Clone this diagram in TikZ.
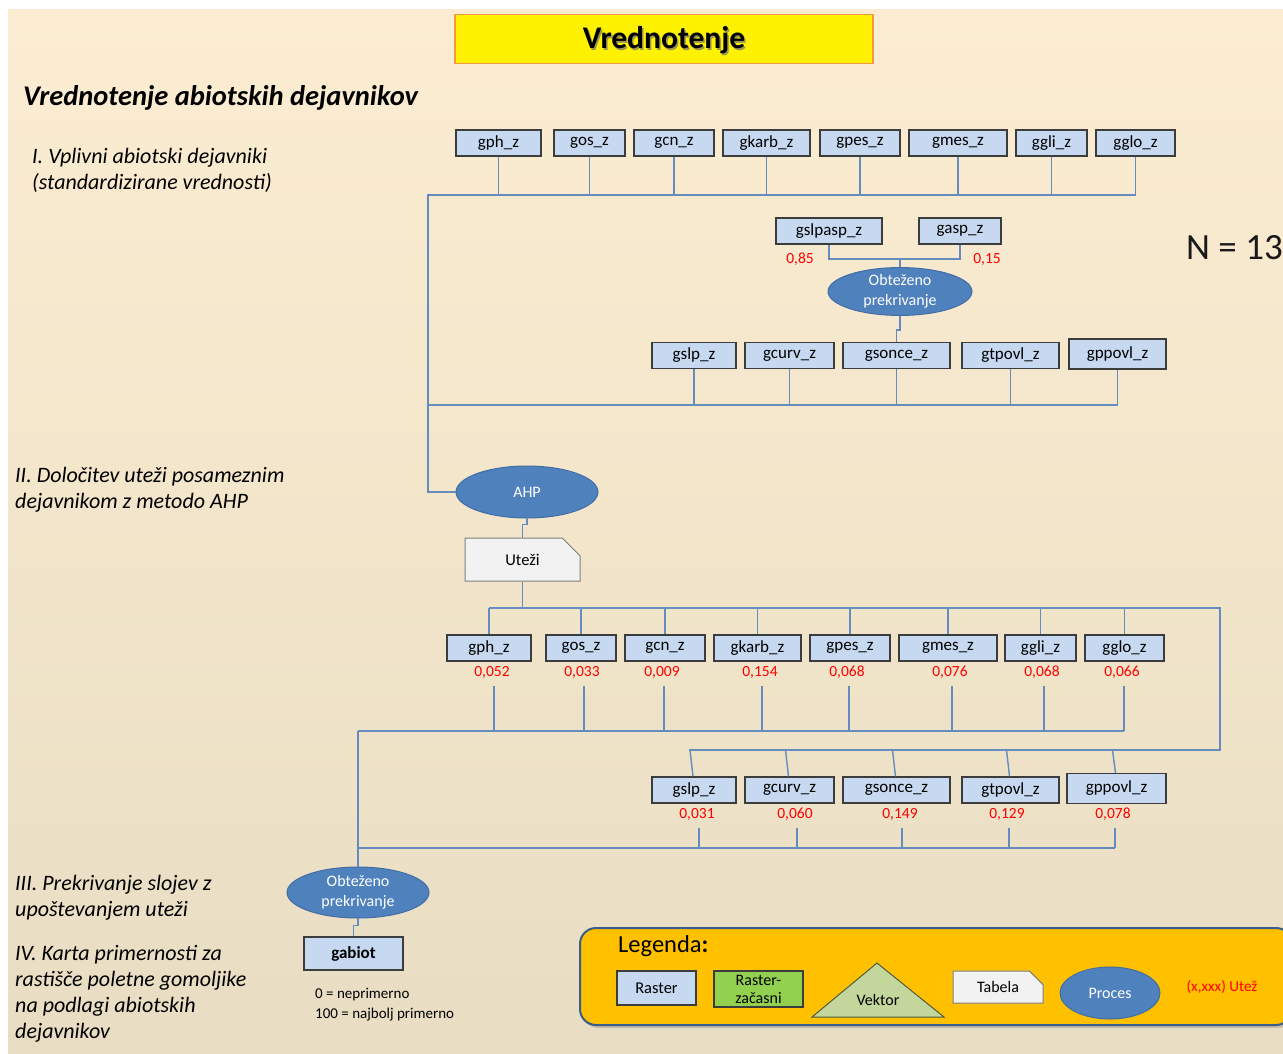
\documentclass[tikz,border=0pt]{standalone}
\usepackage{fontspec}
\setmainfont{Carlito}
\usetikzlibrary{shapes.geometric,shapes.misc,shadows,calc}
\definecolor{bgtop}{RGB}{252,237,210}
\definecolor{bgbot}{RGB}{232,221,195}
\definecolor{boxfill}{RGB}{198,217,241}
\definecolor{boxline}{RGB}{60,60,60}
\definecolor{conn}{RGB}{100,140,190}
\definecolor{procfill}{RGB}{79,129,189}
\definecolor{procline}{RGB}{65,110,165}
\definecolor{titleline}{RGB}{247,150,70}
\definecolor{legfill}{RGB}{255,192,0}
\definecolor{legline}{RGB}{56,93,138}
\definecolor{tmpfill}{RGB}{146,208,80}
\definecolor{vekfill}{RGB}{195,214,155}
\definecolor{vekline}{RGB}{80,90,60}
\definecolor{tabfill}{RGB}{242,242,242}
\definecolor{tabline}{RGB}{127,127,127}
\definecolor{wred}{RGB}{255,0,0}
\begin{document}
\begin{tikzpicture}[x=1pt,y=-1pt,
  rbox/.style={draw=boxline, fill=boxfill, line width=1.3pt, minimum height=26pt, inner sep=0pt, font=\fontsize{17}{19}\selectfont},
  proc/.style={ellipse, draw=procline, fill=procfill, line width=1pt, text=white, inner sep=0pt, align=center, font=\fontsize{16}{20}\selectfont},
  tabela/.style={chamfered rectangle, chamfered rectangle corners=north east, chamfered rectangle xsep=12pt, chamfered rectangle ysep=12pt, draw=tabline, fill=tabfill, line width=1pt, inner sep=0pt, font=\fontsize{16.5}{19}\selectfont},
  wt/.style={text=wred, inner sep=1pt, font=\fontsize{15.5}{17}\selectfont},
  drop/.style={draw=conn, line width=1.4pt},
  bus/.style={draw=conn, line width=2.2pt},
  lefttext/.style={anchor=west, align=left, inner sep=0pt, font=\fontsize{22}{26}\selectfont\itshape}
]
\useasboundingbox (0,0) rectangle (1283,1053);
\shade[top color=bgtop, bottom color=bgbot] (8,9) rectangle (1283,1053);

% title
\node[draw=titleline, fill=yellow, line width=1.8pt, minimum width=418pt, minimum height=49pt] (title) at (664,39) {};
\node[text=black!55, opacity=.7, font=\fontsize{31.5}{34}\selectfont\bfseries] (titleshadow) at (665.5,42) {Vrednotenje};
\node[font=\fontsize{31.5}{34}\selectfont\bfseries] (titletext) at (664,40.5) {Vrednotenje};

\node[anchor=west, inner sep=0pt, font=\fontsize{28.5}{32}\selectfont\bfseries\itshape] (sub) at (23,98) {Vrednotenje abiotskih dejavnikov};

\node[lefttext] (l1) at (32,170) {I. Vplivni abiotski dejavniki\\(standardizirane vrednosti)};
\node[lefttext] (l2) at (15,489.5) {II. Določitev uteži posameznim\\dejavnikom z metodo AHP};
\node[lefttext] (l3) at (15,897.5) {III. Prekrivanje slojev z\\upoštevanjem uteži};
\node[lefttext] (l4) at (15,994) {IV. Karta primernosti za\\rastišče poletne gomoljike\\na podlagi abiotskih\\dejavnikov};

\node[anchor=west, inner sep=0pt, text=black!90, font=\fontsize{37}{40}\selectfont] (n13) at (1186,248) {N = 13};

% ---------- top row
\node[rbox, minimum width=85pt] (a1) at (498.5,143) {gph\_z};
\node[rbox, minimum width=71pt] (a2) at (589.5,143) {gos\_z};
\node[rbox, minimum width=80pt] (a3) at (674,143) {gcn\_z};
\node[rbox, minimum width=87pt] (a4) at (766.5,143) {gkarb\_z};
\node[rbox, minimum width=80pt] (a5) at (860,143) {gpes\_z};
\node[rbox, minimum width=98pt] (a6) at (958,143) {gmes\_z};
\node[rbox, minimum width=71pt] (a7) at (1051.5,143) {ggli\_z};
\node[rbox, minimum width=79pt] (a8) at (1135.5,143) {gglo\_z};

\coordinate (bus1L) at (428,195);
\foreach \n in {a1,a2,a3,a4,a5,a6,a7,a8} \draw[drop] (\n.south) -- (\n.south |- bus1L);

% aspect sub-model
\node[rbox, minimum width=106pt] (b1) at (829,231) {gslpasp\_z};
\node[rbox, minimum width=82pt] (b2) at (960,231) {gasp\_z};
\node[wt] (wb1) at (800,259) {0,85};
\node[wt] (wb2) at (987,259) {0,15};
\node[proc, minimum width=144pt, minimum height=43pt] (e1) at (900,291.5) {Obteženo\\prekrivanje};
\coordinate (j1) at (900,259);
\draw[drop] (b1.south) |- (j1);
\draw[drop] (b2.south) |- (j1);
\draw[drop] (j1) -- (e1.north);

% row 3
\node[rbox, minimum width=84pt] (c1) at (694,355.5) {gslp\_z};
\node[rbox, minimum width=89pt] (c2) at (789.5,355.5) {gcurv\_z};
\node[rbox, minimum width=107pt] (c3) at (896.5,355.5) {gsonce\_z};
\node[rbox, minimum width=97pt] (c4) at (1010.5,355.5) {gtpovl\_z};
\node[rbox, minimum width=97pt, minimum height=30pt] (c5) at (1117.5,354) {gppovl\_z};
\draw[drop] (e1.south) -- ++(0,14) -| (c3.north);

\coordinate (bus2) at (428,405);
\foreach \n in {c1,c2,c3,c4,c5} \draw[drop] (\n.south) -- (\n.south |- bus2);
\draw[bus] (bus2) -- (c5.south |- bus2);

% AHP
\node[proc, minimum width=142pt, minimum height=52pt] (ahp) at (527,492) {AHP};
\draw[bus] (a8.south |- bus1L) -- (bus1L) -- (bus1L |- ahp.west) -- (ahp.west);

\node[tabela, minimum width=115pt, minimum height=43pt] (ut) at (522.5,559.5) {Uteži};
\draw[drop] (ahp.south) -- ++(0,6) -| (ut.north);

% row 4
\node[rbox, minimum width=84pt] (d1) at (489,648) {gph\_z};
\node[rbox, minimum width=70pt] (d2) at (581,648) {gos\_z};
\node[rbox, minimum width=80pt] (d3) at (665,648) {gcn\_z};
\node[rbox, minimum width=87pt] (d4) at (757.5,648) {gkarb\_z};
\node[rbox, minimum width=80pt] (d5) at (850,648) {gpes\_z};
\node[rbox, minimum width=98pt] (d6) at (948,648) {gmes\_z};
\node[rbox, minimum width=71pt] (d7) at (1040.5,648) {ggli\_z};
\node[rbox, minimum width=79pt] (d8) at (1124.5,648) {gglo\_z};

\coordinate (bus3) at (522.5,608);
\coordinate (corner3) at (1220,608);
\coordinate (corner4) at (1220,750);
\draw[drop] (ut.south) -- (ut.south |- bus3);
\foreach \n in {d1,d2,d3,d4,d5,d6,d7,d8} \draw[drop] (\n.north |- bus3) -- (\n.north);

\node[wt] (w1) at (492,672) {0,052};
\node[wt] (w2) at (582,672) {0,033};
\node[wt] (w3) at (662,672) {0,009};
\node[wt] (w4) at (760,672) {0,154};
\node[wt] (w5) at (847,672) {0,068};
\node[wt] (w6) at (950,672) {0,076};
\node[wt] (w7) at (1042,672) {0,068};
\node[wt] (w8) at (1122,672) {0,066};

\coordinate (bus4) at (358,731);
\foreach \n in {w1,w2,w3,w4,w5,w6,w7,w8} \draw[drop] ([xshift=2pt]\n.south) ++(0,7) -- ([xshift=2pt]\n.south |- bus4);
\draw[bus] (bus4) -- ([xshift=2pt]w8.south |- bus4);

% row 5
\node[rbox, minimum width=84pt] (f1) at (694,790) {gslp\_z};
\node[rbox, minimum width=89pt] (f2) at (789.5,790) {gcurv\_z};
\node[rbox, minimum width=107pt] (f3) at (896.5,790) {gsonce\_z};
\node[rbox, minimum width=97pt] (f4) at (1010.5,790) {gtpovl\_z};
\node[rbox, minimum width=99pt, minimum height=30pt] (f5) at (1116.5,788.5) {gppovl\_z};

\draw[drop] (d1.north |- bus3) -- (corner3) -- (corner4) -- ([xshift=-5pt]f1.north |- corner4);
\foreach \n in {f1,f2,f3,f4,f5} \draw[drop] ([xshift=-4pt]\n.north |- corner4) -- ([xshift=-1pt]\n.north);

\node[wt] (v1) at (697,814) {0,031};
\node[wt] (v2) at (795,814) {0,060};
\node[wt] (v3) at (900,814) {0,149};
\node[wt] (v4) at (1007,814) {0,129};
\node[wt] (v5) at (1113,814) {0,078};

\coordinate (bus5) at (358,848);
\foreach \n in {v1,v2,v3,v4,v5} \draw[drop] ([xshift=2pt]\n.south) ++(0,7) -- ([xshift=2pt]\n.south |- bus5);
\draw[bus] (bus5) -- ([xshift=2pt]v5.south |- bus5);

% final overlay
\node[proc, minimum width=142pt, minimum height=51pt] (e2) at (358,892.5) {Obteženo\\prekrivanje};
\draw[bus] (bus4) -- (e2.north);
\node[rbox, minimum width=99pt, minimum height=33pt, font=\fontsize{17}{19}\selectfont\bfseries] (gab) at (353.5,953.5) {gabiot};
\draw[drop] (e2.south) -- ++(0,7) -| (gab.north);

\node[anchor=west, inner sep=0pt, font=\fontsize{15}{17}\selectfont] (s0) at (315,995) {0 = neprimerno};
\node[anchor=west, inner sep=0pt, font=\fontsize{15}{17}\selectfont] (s100) at (315,1015) {100 = najbolj primerno};

% legend
\node[draw=legline, fill=legfill, line width=2pt, rounded corners=16pt, minimum width=712pt, minimum height=97pt, drop shadow={shadow xshift=2pt, shadow yshift=-3pt, opacity=.35}] (leg) at (936,976.5) {};
\node[anchor=west, inner sep=0pt, font=\fontsize{24.5}{27}\selectfont] (legt) at (618,946) {Legenda\textbf{:}};
\node[rbox, minimum width=79pt, minimum height=34pt, font=\fontsize{16.5}{18}\selectfont] (lr) at (656.5,988) {Raster};
\node[rbox, fill=tmpfill, minimum width=89pt, minimum height=36pt, align=center, font=\fontsize{16}{18}\selectfont] (lrz) at (758.5,989) {Raster-\\začasni};
\draw[draw=vekline, fill=vekfill, line width=1pt] (812,1017) -- (877,963) -- (944,1017) -- cycle;
\node[font=\fontsize{16}{18}\selectfont] (lvek) at (878,1000) {Vektor};
\node[tabela, minimum width=90pt, minimum height=32pt, chamfered rectangle xsep=8pt, chamfered rectangle ysep=8pt, font=\fontsize{16}{18}\selectfont] (ltab) at (998,987) {Tabela};
\node[proc, minimum width=100pt, minimum height=52pt] (lproc) at (1110,993) {Proces};
\node[text=wred, font=\fontsize{15.2}{17}\selectfont] (lw) at (1222,987) {(x,xxx) Utež};
\end{tikzpicture}
\end{document}
